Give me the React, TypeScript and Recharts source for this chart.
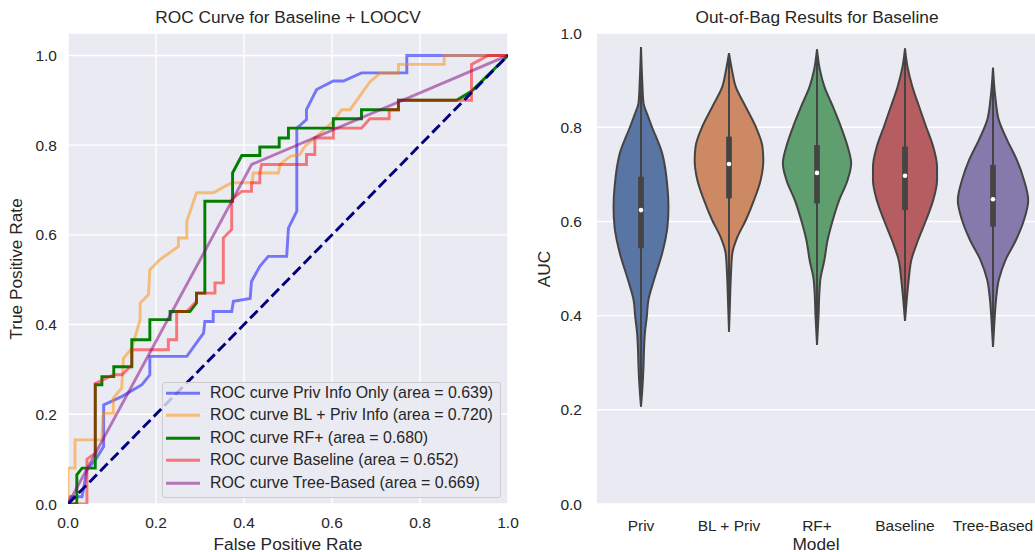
import React from 'react';
import {
  LineChart,
  Line,
  ComposedChart,
  Area,
  XAxis,
  YAxis,
  CartesianGrid,
  ReferenceLine,
  ReferenceDot,
} from 'recharts';

const FONT = '"Liberation Sans", Arial, Helvetica, sans-serif';
const INK = '#262626';
const PANEL = '#EAEAF2';

// ROC curve vertices: [false positive rate, true positive rate]
const rocPrivInfo: [number, number][] = [
  [0, 0], [0.005, 0.016], [0.032, 0.016], [0.043, 0.076], [0.062, 0.098], [0.081, 0.128],
  [0.081, 0.221], [0.123, 0.24], [0.168, 0.266], [0.186, 0.288], [0.186, 0.329], [0.27, 0.329],
  [0.308, 0.381], [0.311, 0.407], [0.33, 0.407], [0.33, 0.429], [0.372, 0.429], [0.376, 0.452],
  [0.414, 0.458], [0.417, 0.496], [0.436, 0.53], [0.455, 0.552], [0.497, 0.552], [0.501, 0.615],
  [0.52, 0.653], [0.52, 0.838], [0.542, 0.857], [0.542, 0.879], [0.565, 0.924], [0.603, 0.943],
  [0.626, 0.943], [0.667, 0.961], [0.77, 0.961], [0.77, 1], [1, 1],
];
const rocBlPriv: [number, number][] = [
  [0, 0], [0, 0.08], [0.016, 0.08], [0.016, 0.143], [0.077, 0.143], [0.08, 0.202], [0.103, 0.202],
  [0.103, 0.236], [0.122, 0.258], [0.126, 0.325], [0.145, 0.347], [0.164, 0.411], [0.164, 0.448],
  [0.183, 0.467], [0.186, 0.522], [0.209, 0.545], [0.251, 0.574], [0.251, 0.593], [0.27, 0.593],
  [0.27, 0.63], [0.292, 0.694], [0.33, 0.694], [0.372, 0.716], [0.419, 0.716], [0.421, 0.738],
  [0.478, 0.738], [0.482, 0.757], [0.505, 0.775], [0.527, 0.779], [0.539, 0.798], [0.561, 0.816],
  [0.603, 0.853], [0.622, 0.879], [0.641, 0.879], [0.686, 0.941], [0.709, 0.96], [0.751, 0.96],
  [0.751, 0.98], [0.855, 0.98], [0.855, 1], [1, 1],
];
const rocRfPlus: [number, number][] = [
  [0, 0], [0.02, 0], [0.02, 0.065], [0.032, 0.08], [0.062, 0.08], [0.062, 0.266], [0.077, 0.266],
  [0.077, 0.284], [0.104, 0.284], [0.104, 0.306], [0.145, 0.306], [0.145, 0.366], [0.186, 0.366],
  [0.186, 0.411], [0.232, 0.411], [0.232, 0.429], [0.277, 0.429], [0.292, 0.448], [0.292, 0.47],
  [0.311, 0.47], [0.311, 0.675], [0.374, 0.675], [0.374, 0.738], [0.395, 0.777], [0.436, 0.777],
  [0.436, 0.796], [0.48, 0.796], [0.48, 0.816], [0.501, 0.816], [0.501, 0.838], [0.603, 0.838],
  [0.603, 0.859], [0.667, 0.859], [0.667, 0.879], [0.751, 0.879], [0.751, 0.9], [0.883, 0.9],
  [0.917, 0.92], [1, 1],
];
const rocBaseline: [number, number][] = [
  [0, 0], [0.043, 0], [0.043, 0.1], [0.062, 0.113], [0.062, 0.269], [0.08, 0.277], [0.104, 0.288],
  [0.123, 0.288], [0.145, 0.31], [0.145, 0.344], [0.228, 0.344], [0.228, 0.366], [0.247, 0.366],
  [0.247, 0.429], [0.27, 0.429], [0.292, 0.452], [0.292, 0.47], [0.334, 0.47], [0.334, 0.493],
  [0.353, 0.493], [0.353, 0.593], [0.372, 0.612], [0.372, 0.679], [0.395, 0.697], [0.417, 0.697],
  [0.417, 0.716], [0.436, 0.716], [0.436, 0.738], [0.44, 0.757], [0.542, 0.757], [0.542, 0.779],
  [0.561, 0.779], [0.561, 0.816], [0.603, 0.816], [0.603, 0.838], [0.667, 0.838], [0.686, 0.859],
  [0.73, 0.859], [0.73, 0.879], [0.751, 0.879], [0.751, 0.9], [0.917, 0.9], [0.917, 0.98],
  [0.955, 1], [1, 1],
];
const rocTreeBased: [number, number][] = [[0, 0], [0.4175, 0.757], [1, 1]];
const rocChance: [number, number][] = [[0, 0], [1, 1]];

const rocLabels = [
  'ROC curve Priv Info Only (area = 0.639)',
  'ROC curve BL + Priv Info (area = 0.720)',
  'ROC curve RF+ (area = 0.680)',
  'ROC curve Baseline (area = 0.652)',
  'ROC curve Tree-Based (area = 0.669)',
];
const rocColors = ['#0000FF', '#FF8C00', '#008000', '#FF0000', '#800080'];
const rocAlphas = [0.5, 0.5, 1, 0.5, 0.5];
const rateTicks = [0, 0.2, 0.4, 0.6, 0.8, 1.0];

// Out-of-bag AUC distributions per model
const models = ['Priv', 'BL + Priv', 'RF+', 'Baseline', 'Tree-Based'];
const modelColors = ['#5975A4', '#CC8963', '#5F9E6E', '#B55D60', '#857AAB'];
const aucTicks = [0, 0.2, 0.4, 0.6, 0.8, 1.0];

// Kernel density outlines: [AUC, relative density]
const densityPriv: [number, number][] = [
  [0.97, 0], [0.9, 0.034], [0.851, 0.071], [0.829, 0.17], [0.801, 0.31], [0.745, 0.6],
  [0.674, 0.75], [0.631, 0.78], [0.588, 0.75], [0.532, 0.6], [0.476, 0.37], [0.433, 0.21],
  [0.398, 0.165], [0.362, 0.11], [0.327, 0.085], [0.29, 0.07], [0.25, 0.043], [0.207, 0],
];
const densityBlPriv: [number, number][] = [
  [0.957, 0], [0.921, 0.085], [0.886, 0.19], [0.844, 0.47], [0.801, 0.76], [0.759, 0.95],
  [0.73, 0.975], [0.688, 0.9], [0.645, 0.71], [0.603, 0.48], [0.567, 0.24], [0.532, 0.094],
  [0.49, 0.057], [0.43, 0.028], [0.366, 0],
];
const densityRfPlus: [number, number][] = [
  [0.965, 0], [0.921, 0.085], [0.886, 0.21], [0.844, 0.45], [0.801, 0.68], [0.759, 0.87],
  [0.723, 0.97], [0.688, 0.87], [0.645, 0.63], [0.603, 0.45], [0.56, 0.3], [0.518, 0.21],
  [0.476, 0.094], [0.454, 0.071], [0.4, 0.043], [0.338, 0],
];
const densityBaseline: [number, number][] = [
  [0.967, 0], [0.928, 0.071], [0.886, 0.21], [0.844, 0.4], [0.801, 0.6], [0.759, 0.8],
  [0.716, 0.91], [0.688, 0.91], [0.645, 0.8], [0.603, 0.6], [0.56, 0.37], [0.518, 0.18],
  [0.476, 0.105], [0.44, 0.057], [0.389, 0],
];
const densityTreeBased: [number, number][] = [
  [0.926, 0], [0.86, 0.071], [0.815, 0.165], [0.773, 0.4], [0.73, 0.68], [0.688, 0.88],
  [0.645, 1.0], [0.603, 0.88], [0.56, 0.65], [0.518, 0.355], [0.476, 0.165], [0.433, 0.085],
  [0.39, 0.043], [0.334, 0],
];

// Box summaries per model
const quartile1 = [0.543, 0.649, 0.638, 0.624, 0.589];
const quartile3 = [0.695, 0.78, 0.762, 0.759, 0.72];
const medians = [0.624, 0.722, 0.703, 0.697, 0.647];
const whiskerLow = [0.207, 0.366, 0.338, 0.389, 0.334];
const whiskerHigh = [0.97, 0.957, 0.965, 0.967, 0.926];

const VIOLIN_HALF_WIDTH = 0.4;
const OUTLINE = '#444444';

const rocSeries = [rocPrivInfo, rocBlPriv, rocRfPlus, rocBaseline, rocTreeBased].map((pts, i) => ({
  data: pts.map(([fpr, tpr]) => ({ fpr, tpr })),
  label: rocLabels[i],
  color: rocColors[i],
  alpha: rocAlphas[i],
}));
const chanceData = rocChance.map(([fpr, tpr]) => ({ fpr, tpr }));

const violinData = [densityPriv, densityBlPriv, densityRfPlus, densityBaseline, densityTreeBased].map(
  (profile, i) =>
    profile.map(([auc, d]) => ({
      auc,
      span: [i - d * VIOLIN_HALF_WIDTH, i + d * VIOLIN_HALF_WIDTH],
    }))
);

const tickStyle = { fill: INK, fontSize: 15.5, fontFamily: FONT };

const labelStyle: React.CSSProperties = {
  position: 'absolute',
  fontSize: 17.3,
  lineHeight: 1,
  whiteSpace: 'nowrap',
  color: INK,
  fontFamily: FONT,
};

const bottomLabelStyle: React.CSSProperties = {
  ...labelStyle,
  top: 535.5,
  height: 16,
  lineHeight: '16px',
  textAlign: 'center',
};

function RocLegend() {
  return (
    <div
      style={{
        position: 'absolute',
        left: 161.7,
        top: 381.7,
        width: 339,
        height: 116,
        boxSizing: 'border-box',
        border: '1px solid #cccccc',
        borderRadius: 3,
        background: 'rgba(234,234,242,0.8)',
        fontFamily: FONT,
        fontSize: 15.9,
        color: INK,
      }}
    >
      {rocSeries.map((s, i) => (
        <div
          key={s.label}
          style={{
            position: 'absolute',
            left: 0,
            top: i * 22.5 - 1,
            height: 22.5,
            lineHeight: '22.5px',
            whiteSpace: 'nowrap',
          }}
        >
          <svg width={34} height={22} style={{ position: 'absolute', left: 3.3, top: 0 }}>
            <line x1={0} y1={11.25} x2={34} y2={11.25} stroke={s.color} strokeOpacity={s.alpha} strokeWidth={2.9} />
          </svg>
          <span style={{ position: 'absolute', left: 47.3, top: 0 }}>{s.label}</span>
        </div>
      ))}
    </div>
  );
}

export default function App() {
  return (
    <div
      style={{
        position: 'absolute',
        left: 0,
        top: 0,
        width: 1035,
        height: 552,
        overflow: 'hidden',
        background: '#ffffff',
        fontFamily: FONT,
      }}
    >
      <div style={{ position: 'absolute', left: 0, top: 0 }}>
        <LineChart width={520} height={552} margin={{ top: 33, right: 12, bottom: 0, left: 0 }}>
          <CartesianGrid fill={PANEL} stroke="#ffffff" strokeWidth={1.45} />
          <XAxis
            type="number"
            dataKey="fpr"
            domain={[0, 1]}
            ticks={rateTicks}
            interval={0}
            allowDataOverflow
            tickFormatter={(v: number) => v.toFixed(1)}
            axisLine={false}
            tickLine={false}
            height={48}
            tickMargin={6.5}
            tick={tickStyle}
          />
          <YAxis
            type="number"
            domain={[0, 1.05]}
            ticks={rateTicks}
            interval={0}
            allowDataOverflow
            tickFormatter={(v: number) => v.toFixed(1)}
            axisLine={false}
            tickLine={false}
            width={68}
            tickMargin={5}
            tick={tickStyle}
          />
          {rocSeries.map((s) => (
            <Line
              key={s.label}
              data={s.data}
              dataKey="tpr"
              type="linear"
              stroke={s.color}
              strokeOpacity={s.alpha}
              strokeWidth={2.9}
              dot={false}
              activeDot={false}
              isAnimationActive={false}
            />
          ))}
          <Line
            data={chanceData}
            dataKey="tpr"
            type="linear"
            stroke="#000080"
            strokeWidth={2.9}
            strokeDasharray="10.7 4.6"
            dot={false}
            activeDot={false}
            isAnimationActive={false}
          />
        </LineChart>
      </div>

      <div style={{ position: 'absolute', left: 520, top: 0 }}>
        <ComposedChart
          layout="vertical"
          width={517}
          height={552}
          margin={{ top: 33, right: 0, bottom: 0, left: 0 }}
        >
          <CartesianGrid vertical={false} fill={PANEL} stroke="#ffffff" strokeWidth={1.45} />
          <XAxis
            type="number"
            domain={[-0.5, 4.5]}
            ticks={[0, 1, 2, 3, 4]}
            interval={0}
            allowDataOverflow
            tickFormatter={(v: number) => models[v] ?? ''}
            axisLine={false}
            tickLine={false}
            height={48}
            tickMargin={9.5}
            tick={tickStyle}
          />
          <YAxis
            type="number"
            dataKey="auc"
            domain={[0, 1]}
            ticks={aucTicks}
            interval={0}
            reversed
            allowDataOverflow
            tickFormatter={(v: number) => v.toFixed(1)}
            axisLine={false}
            tickLine={false}
            width={77}
            tickMargin={9}
            tick={tickStyle}
          />
          {violinData.map((d, i) => (
            <Area
              key={models[i]}
              data={d}
              dataKey="span"
              type="monotone"
              fill={modelColors[i]}
              fillOpacity={1}
              stroke={OUTLINE}
              strokeWidth={2}
              dot={false}
              activeDot={false}
              isAnimationActive={false}
            />
          ))}
          {models.map((m, i) => (
            <ReferenceLine
              key={`w-${m}`}
              segment={[{ x: i, y: whiskerLow[i] }, { x: i, y: whiskerHigh[i] }]}
              stroke={OUTLINE}
              strokeWidth={2}
            />
          ))}
          {models.map((m, i) => (
            <ReferenceLine
              key={`b-${m}`}
              segment={[{ x: i, y: quartile1[i] }, { x: i, y: quartile3[i] }]}
              stroke={OUTLINE}
              strokeWidth={5.7}
            />
          ))}
          {models.map((m, i) => (
            <ReferenceDot key={`m-${m}`} x={i} y={medians[i]} r={2.3} fill="#ffffff" stroke="none" />
          ))}
        </ComposedChart>
      </div>

      <RocLegend />

      <div style={{ ...labelStyle, left: 68, width: 440, top: 9, textAlign: 'center' }}>
        ROC Curve for Baseline + LOOCV
      </div>
      <div style={{ ...labelStyle, left: 597, width: 440, top: 9, textAlign: 'center' }}>
        Out-of-Bag Results for Baseline
      </div>
      <div style={{ ...bottomLabelStyle, left: 68, width: 440 }}>False Positive Rate</div>
      <div style={{ ...bottomLabelStyle, left: 597, width: 438 }}>Model</div>
      <div style={{ ...labelStyle, left: 17, top: 268.5, transform: 'translate(-50%, -50%) rotate(-90deg)' }}>
        True Positive Rate
      </div>
      <div style={{ ...labelStyle, left: 545, top: 268.5, transform: 'translate(-50%, -50%) rotate(-90deg)' }}>
        AUC
      </div>
    </div>
  );
}
